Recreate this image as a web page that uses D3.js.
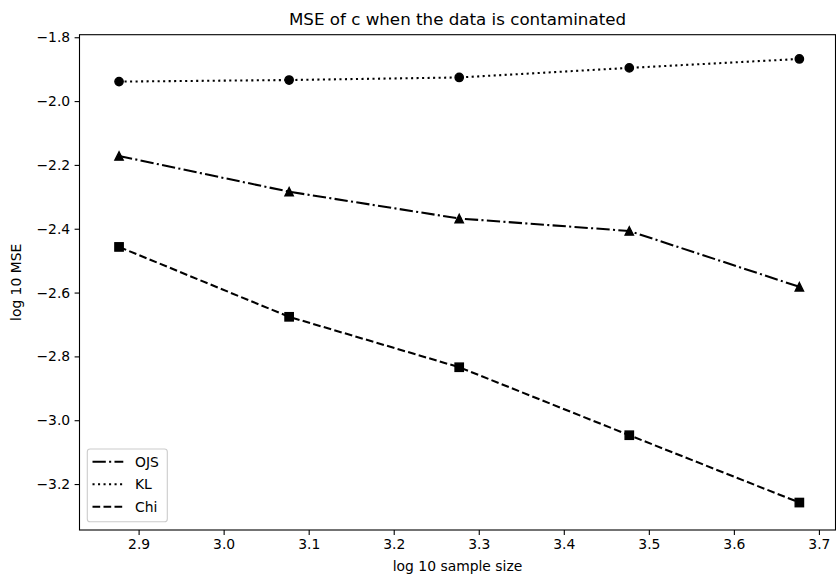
<!DOCTYPE html>
<html>
<head>
<meta charset="utf-8">
<script src="https://cdn.jsdelivr.net/npm/d3@7"></script>
<style>
  html, body { margin: 0; padding: 0; background: #fff; }
  svg { display: block; }
  text { font-family: "DejaVu Sans", sans-serif; fill: #000; }
</style>
</head>
<body>
<div id="chart"></div>
<script>
// ---- data ----
const sampleSizeLog = [2.877, 3.077, 3.277, 3.477, 3.677];
const ojsValues = [-2.172, -2.284, -2.368, -2.407, -2.582];
const klValues  = [-1.939, -1.934, -1.926, -1.896, -1.868];
const chiValues = [-2.457, -2.676, -2.834, -3.047, -3.258];
const xTicks = [2.9, 3.0, 3.1, 3.2, 3.3, 3.4, 3.5, 3.6, 3.7];
const yTicks = [-1.8, -2.0, -2.2, -2.4, -2.6, -2.8, -3.0, -3.2];
const seriesNames = ["OJS", "KL", "Chi"];
const titleText = "MSE of c when the data is contaminated";
const xLabelText = "log 10 sample size";
const yLabelText = "log 10 MSE";

// ---- layout ----
const W = 836, H = 580;
const pLeft = 79.5, pRight = 835.5, pTop = 34.7, pBottom = 530;
const lw = 2.08;

const svg = d3.select("#chart").append("svg")
  .attr("width", W).attr("height", H);

const x = d3.scaleLinear().domain([2.8305, 3.7195]).range([pLeft, pRight]);
const y = d3.scaleLinear().domain([-3.344, -1.792]).range([pBottom, pTop]);

// axes
const xAxis = d3.axisBottom(x).tickValues(xTicks).tickFormat(d3.format(".1f"))
  .tickSize(4.9).tickPadding(4.4);
const yAxis = d3.axisLeft(y).tickValues(yTicks).tickFormat(d => d3.format(".1f")(d).replace("-", "\u2212"))
  .tickSize(4.9).tickPadding(4.4);

const gx = svg.append("g").attr("transform", `translate(0,${pBottom})`).call(xAxis);
const gy = svg.append("g").attr("transform", `translate(${pLeft},0)`).call(yAxis);
[gx, gy].forEach(g => {
  g.select(".domain").remove();
  g.selectAll(".tick line").attr("stroke", "#000").attr("stroke-width", 1.1);
  g.selectAll(".tick text").style("font-size", "13.9px").style("font-family", "DejaVu Sans, sans-serif").attr("fill", "#000");
});

// spines
svg.append("rect")
  .attr("x", pLeft).attr("y", pTop)
  .attr("width", pRight - pLeft).attr("height", pBottom - pTop)
  .attr("fill", "none").attr("stroke", "#000").attr("stroke-width", 1.1);

// series
const series = [
  { name: "OJS", values: ojsValues, dash: [13.3, 3.3, 2.08, 3.3], marker: "triangle" },
  { name: "KL",  values: klValues,  dash: [2.08, 3.43], marker: "circle" },
  { name: "Chi", values: chiValues, dash: [7.7, 3.3], marker: "square" }
];

const line = d3.line().x(d => x(d[0])).y(d => y(d[1]));
const ms = 8.33;

function drawMarker(g, cx, cy, type) {
  if (type === "circle") {
    g.append("circle").attr("cx", cx).attr("cy", cy).attr("r", ms / 2)
      .attr("fill", "#000").attr("stroke", "#000").attr("stroke-width", 1.39);
  } else if (type === "square") {
    g.append("rect").attr("x", cx - ms / 2).attr("y", cy - ms / 2)
      .attr("width", ms).attr("height", ms)
      .attr("fill", "#000").attr("stroke", "#000").attr("stroke-width", 1.39);
  } else {
    const h = ms / 2;
    g.append("path").attr("d", `M${cx},${cy - h}L${cx - h},${cy + h}L${cx + h},${cy + h}Z`)
      .attr("fill", "#000").attr("stroke", "#000").attr("stroke-width", 1.39)
      .attr("stroke-linejoin", "miter");
  }
}

series.forEach(s => {
  const pts = sampleSizeLog.map((v, i) => [v, s.values[i]]);
  svg.append("path").datum(pts).attr("d", line)
    .attr("fill", "none").attr("stroke", "#000").attr("stroke-width", lw)
    .attr("stroke-dasharray", s.dash.join(","));
  const g = svg.append("g");
  pts.forEach(p => drawMarker(g, x(p[0]), y(p[1]), s.marker));
});

// title and labels
svg.append("text").attr("x", (pLeft + pRight) / 2).attr("y", 25)
  .attr("text-anchor", "middle").style("font-size", "16.7px").text(titleText);
svg.append("text").attr("x", (pLeft + pRight) / 2).attr("y", 571)
  .attr("text-anchor", "middle").style("font-size", "13.9px").text(xLabelText);
svg.append("text").attr("transform", `translate(21,${(pTop + pBottom) / 2}) rotate(-90)`)
  .attr("text-anchor", "middle").style("font-size", "13.9px").text(yLabelText);

// legend
const lg = svg.append("g");
lg.append("rect").attr("x", 87.3).attr("y", 449).attr("width", 80).attr("height", 72.7)
  .attr("rx", 2.8).attr("fill", "#fff").attr("fill-opacity", 0.8)
  .attr("stroke", "#ccc").attr("stroke-width", 1.1);
const legendY = [461.7, 484.3, 506.7];
series.forEach((s, i) => {
  lg.append("line").attr("x1", 92.5).attr("x2", 123.3)
    .attr("y1", legendY[i]).attr("y2", legendY[i])
    .attr("stroke", "#000").attr("stroke-width", lw)
    .attr("stroke-dasharray", s.dash.join(","));
  lg.append("text").attr("x", 135).attr("y", legendY[i]).attr("dy", "0.36em")
    .style("font-size", "13.9px").text(seriesNames[i]);
});
</script>
</body>
</html>
